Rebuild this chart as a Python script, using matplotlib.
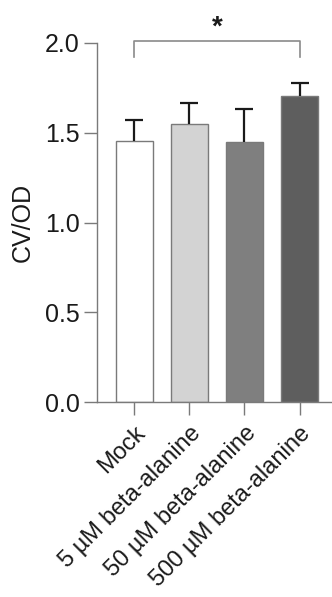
import matplotlib
matplotlib.use("Agg")
import matplotlib.pyplot as plt
import matplotlib.transforms as mtransforms

categories = ["Mock", "5 µM beta-alanine", "50 µM beta-alanine", "500 µM beta-alanine"]
means = [1.455, 1.548, 1.450, 1.703]
errors = [0.116, 0.117, 0.181, 0.076]
colors = ["#ffffff", "#d3d3d3", "#7f7f7f", "#5e5e5e"]
yticks = [0.0, 0.5, 1.0, 1.5, 2.0]

plt.rcParams['font.family'] = ['Liberation Sans', 'DejaVu Sans']

fig = plt.figure(figsize=(3.32, 5.97), dpi=100)
ax = fig.add_axes([97/332, 1 - 402/597, (332 - 97)/332, (402 - 43)/597])

x = list(range(len(categories)))
ax.bar(x, means, width=0.67, color=colors, edgecolor="#7a7a7a", linewidth=1.0, zorder=2)
eb = ax.errorbar(x, means, yerr=[[0]*len(means), errors], fmt="none", ecolor="#1a1a1a",
                 elinewidth=1.6, capsize=6.5, capthick=1.6, zorder=3)
caps = eb[1]
if len(caps) == 2:
    caps[0].set_visible(False)

ax.set_xlim(-0.68, 3.59)
ax.set_ylim(0, 2.0)
ax.set_yticks(yticks)
ax.set_yticklabels([f"{v:.1f}" for v in yticks])
ax.set_xticks(x)
ax.set_xticklabels(categories, rotation=45, ha="right", va="top", rotation_mode="anchor")
offset = mtransforms.ScaledTranslation(-5/100, -1/100, fig.dpi_scale_trans)
for lab in ax.get_xticklabels():
    lab.set_transform(lab.get_transform() + offset)

for s in ["top", "right"]:
    ax.spines[s].set_visible(False)
for s in ["left", "bottom"]:
    ax.spines[s].set_color("#7a7a7a")
    ax.spines[s].set_linewidth(1.0)
ax.tick_params(axis="both", colors="#7a7a7a", length=9.5, width=1.0, labelsize=18,
               labelcolor="#1a1a1a", direction="out", pad=3)
ax.tick_params(axis="x", pad=5, labelsize=17)
ax.set_ylabel("CV/OD", fontsize=18, color="#1a1a1a", labelpad=7)

# significance bracket
ax.plot([0, 0, 3, 3], [1.922, 2.011, 2.011, 1.922], color="#8a8a8a", lw=1.2, clip_on=False)
ax.text(1.5, 2.085, "*", ha="center", va="center", fontsize=20, color="#1a1a1a",
        fontweight="bold", clip_on=False)

fig.savefig("out.png", dpi=100)
